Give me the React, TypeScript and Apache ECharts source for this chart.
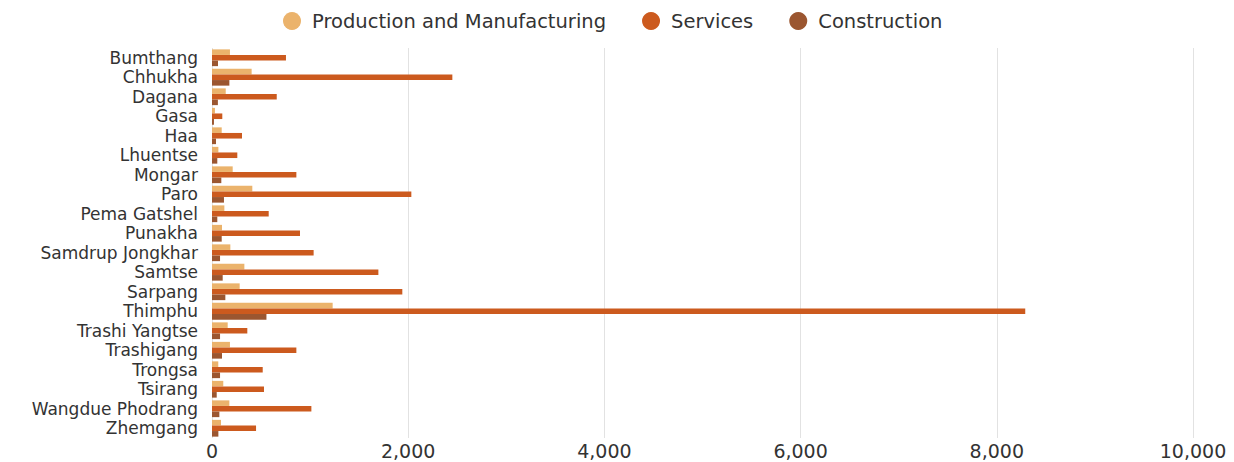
import React, { useEffect, useRef } from "react";
import * as echarts from "echarts";

const districts = [
  "Bumthang", "Chhukha", "Dagana", "Gasa", "Haa", "Lhuentse", "Mongar", "Paro",
  "Pema Gatshel", "Punakha", "Samdrup Jongkhar", "Samtse", "Sarpang", "Thimphu",
  "Trashi Yangtse", "Trashigang", "Trongsa", "Tsirang", "Wangdue Phodrang", "Zhemgang",
];
const production = [183, 404, 140, 30, 99, 65, 211, 411, 126, 102, 187, 330, 282, 1230, 160, 183, 64, 115, 177, 92];
const services = [754, 2450, 660, 105, 306, 258, 860, 2032, 578, 897, 1036, 1696, 1940, 8290, 360, 860, 517, 530, 1013, 449];
const construction = [61, 177, 60, 20, 41, 54, 95, 122, 54, 99, 82, 109, 136, 555, 82, 102, 82, 48, 75, 65];

const seriesNames = ["Production and Manufacturing", "Services", "Construction"];
const colors = ["#EBB36C", "#CC5A1E", "#9B5630"];

export default function App() {
  const ref = useRef<HTMLDivElement>(null);
  useEffect(() => {
    if (!ref.current) return;
    const chart = echarts.init(ref.current, null, { renderer: "svg" });
    const font = "DejaVu Sans, sans-serif";
    chart.setOption({
      animation: false,
      color: colors,
      legend: {
        top: -2,
        left: 270,
        icon: "circle",
        itemWidth: 30,
        itemHeight: 18,
        itemGap: 36,
        textStyle: { fontFamily: font, fontSize: 19.5, color: "#333" },
        data: seriesNames,
      },
      grid: { left: 204, right: 33, top: 40, bottom: 24, outerBoundsMode: "none" },
      xAxis: {
        type: "value",
        min: 0,
        max: 10000,
        interval: 2000,
        axisLine: { show: false },
        axisTick: { show: false },
        axisLabel: {
          fontFamily: font,
          fontSize: 19,
          color: "#333",
          margin: 3,
          formatter: (v: number) => v.toLocaleString("en-US"),
        },
        splitLine: { show: true, lineStyle: { color: "#e2e2e2", width: 1 } },
      },
      yAxis: {
        type: "category",
        data: districts,
        inverse: true,
        axisLine: { show: false },
        axisTick: { show: false },
        axisLabel: { fontFamily: font, fontSize: 17, color: "#333", margin: 14, interval: 0 },
      },
      series: [
        { name: seriesNames[0], type: "bar", data: production, barGap: "0%", barCategoryGap: "14%" },
        { name: seriesNames[1], type: "bar", data: services, barGap: "0%", barCategoryGap: "14%" },
        { name: seriesNames[2], type: "bar", data: construction, barGap: "0%", barCategoryGap: "14%" },
      ],
    });
    return () => chart.dispose();
  }, []);
  return <div ref={ref} style={{ width: 1218, height: 454 }} />;
}
